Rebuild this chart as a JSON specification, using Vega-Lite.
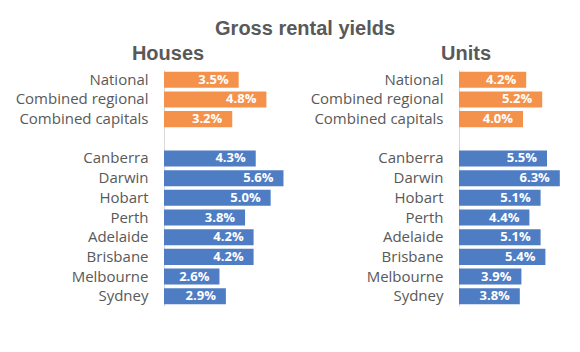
{
  "$schema": "https://vega.github.io/schema/vega-lite/v6.json",
  "padding": {"left": 15, "top": 19, "right": 5, "bottom": 5},
  "title": {"text": "Gross rental yields", "fontSize": 20, "font": "Liberation Sans", "fontWeight": "bold", "color": "#595959", "anchor": "middle", "offset": 5, "dx": 12},
  "config": {
    "view": {"stroke": null},
    "concat": {"spacing": 18},
    "title": {"fontSize": 20, "font": "Liberation Sans", "fontWeight": "bold", "color": "#595959", "offset": 6}
  },
  "data": {"values": [
    {"type": "Houses", "region": "National", "group": "summary", "value": 0.035},
    {"type": "Houses", "region": "Combined regional", "group": "summary", "value": 0.048},
    {"type": "Houses", "region": "Combined capitals", "group": "summary", "value": 0.032},
    {"type": "Houses", "region": "Canberra", "group": "city", "value": 0.043},
    {"type": "Houses", "region": "Darwin", "group": "city", "value": 0.056},
    {"type": "Houses", "region": "Hobart", "group": "city", "value": 0.050},
    {"type": "Houses", "region": "Perth", "group": "city", "value": 0.038},
    {"type": "Houses", "region": "Adelaide", "group": "city", "value": 0.042},
    {"type": "Houses", "region": "Brisbane", "group": "city", "value": 0.042},
    {"type": "Houses", "region": "Melbourne", "group": "city", "value": 0.026},
    {"type": "Houses", "region": "Sydney", "group": "city", "value": 0.029},
    {"type": "Units", "region": "National", "group": "summary", "value": 0.042},
    {"type": "Units", "region": "Combined regional", "group": "summary", "value": 0.052},
    {"type": "Units", "region": "Combined capitals", "group": "summary", "value": 0.040},
    {"type": "Units", "region": "Canberra", "group": "city", "value": 0.055},
    {"type": "Units", "region": "Darwin", "group": "city", "value": 0.063},
    {"type": "Units", "region": "Hobart", "group": "city", "value": 0.051},
    {"type": "Units", "region": "Perth", "group": "city", "value": 0.044},
    {"type": "Units", "region": "Adelaide", "group": "city", "value": 0.051},
    {"type": "Units", "region": "Brisbane", "group": "city", "value": 0.054},
    {"type": "Units", "region": "Melbourne", "group": "city", "value": 0.039},
    {"type": "Units", "region": "Sydney", "group": "city", "value": 0.038}
  ]},
  "hconcat": [
    {
      "title": {"text": "Houses", "dx": -60},
      "width": 128, "height": 236,
      "transform": [{"filter": "datum.type === 'Houses'"}],
      "encoding": {
        "y": {"field": "region", "type": "nominal", "sort": null,
          "scale": {"domain": ["National", "Combined regional", "Combined capitals", " ", "Canberra", "Darwin", "Hobart", "Perth", "Adelaide", "Brisbane", "Melbourne", "Sydney"], "paddingInner": 0.185, "paddingOuter": 0.09},
          "axis": {"title": null, "ticks": false, "labelPadding": 16, "domainColor": "#d9d9d9", "labelFontSize": 15, "labelColor": "#595959", "labelFont": "Open Sans"}},
        "x": {"field": "value", "type": "quantitative", "scale": {"domain": [0, 0.06]}, "axis": null}
      },
      "layer": [
        {"mark": "bar", "encoding": {"color": {"field": "group", "type": "nominal", "scale": {"domain": ["summary", "city"], "range": ["#F4924C", "#4E7DC4"]}, "legend": null}}},
        {"mark": {"type": "text", "align": "right", "dx": -10, "color": "white", "fontWeight": "bold", "fontSize": 13, "font": "Open Sans"}, "encoding": {"text": {"field": "value", "type": "quantitative", "format": ".1%"}}}
      ]
    },
    {
      "title": {"text": "Units", "dx": -49},
      "width": 112, "height": 236,
      "transform": [{"filter": "datum.type === 'Units'"}],
      "encoding": {
        "y": {"field": "region", "type": "nominal", "sort": null,
          "scale": {"domain": ["National", "Combined regional", "Combined capitals", " ", "Canberra", "Darwin", "Hobart", "Perth", "Adelaide", "Brisbane", "Melbourne", "Sydney"], "paddingInner": 0.185, "paddingOuter": 0.09},
          "axis": {"title": null, "ticks": false, "labelPadding": 16, "domainColor": "#d9d9d9", "labelFontSize": 15, "labelColor": "#595959", "labelFont": "Open Sans"}},
        "x": {"field": "value", "type": "quantitative", "scale": {"domain": [0, 0.07]}, "axis": null}
      },
      "layer": [
        {"mark": "bar", "encoding": {"color": {"field": "group", "type": "nominal", "scale": {"domain": ["summary", "city"], "range": ["#F4924C", "#4E7DC4"]}, "legend": null}}},
        {"mark": {"type": "text", "align": "right", "dx": -10, "color": "white", "fontWeight": "bold", "fontSize": 13, "font": "Open Sans"}, "encoding": {"text": {"field": "value", "type": "quantitative", "format": ".1%"}}}
      ]
    }
  ]
}
